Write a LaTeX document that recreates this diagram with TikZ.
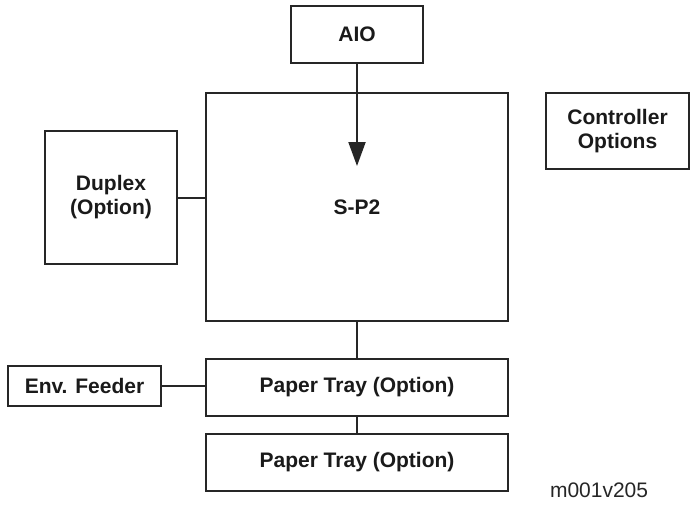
\documentclass[tikz,border=0pt]{standalone}
\usepackage{fontspec}
\setmainfont{Liberation Sans}
\usetikzlibrary{arrows.meta, positioning}
\definecolor{cline}{HTML}{262626}
\definecolor{ctext}{HTML}{1A1A1A}
\tikzset{
  every picture/.style={font=\fontsize{10.5}{12}\selectfont, line width=1pt},
  unit/.style={draw=cline, fill=white, align=center, inner sep=0pt, text=ctext, font=\fontsize{10.5}{12}\selectfont\bfseries},
  link/.style={draw=cline, line width=1pt},
  feed/.style={-{Triangle[length=12pt, width=8.5pt]}, draw=cline, line width=1pt},
  tag/.style={font=\fontsize{10.5}{12}\selectfont, text=cline, anchor=base west, inner sep=0pt},
}

\begin{document}
\begin{tikzpicture}[x=0.5pt, y=-0.5pt]
  \useasboundingbox (0,0) rectangle (690,504);

  % ---- main unit and options
  \node[unit, minimum width=66pt, minimum height=28.5pt] (aio) at (357,34.5) {AIO};
  \node[unit, minimum width=151pt, minimum height=114pt] (sp2) at (357,207) {S-P2};
  \node[unit, minimum width=71.5pt, minimum height=38pt] (ctl) at (617.5,131) {Controller\\Options};
  \node[unit, minimum width=66pt, minimum height=66.5pt] (dup) at (111,197.5) {Duplex\\(Option)};

  % ---- paper feed
  \node[unit, minimum width=151pt, minimum height=28.5pt] (tray1) at (357,387.5) {Paper Tray (Option)};
  \node[unit, minimum width=151pt, minimum height=28.5pt] (tray2) at (357,462.5) {Paper Tray (Option)};
  \node[unit, minimum width=76.5pt, minimum height=20pt] (env) at (84.5,386) {Env. Feeder};

  \node[tag] (code) at (549,497) {m001v205};

  \coordinate (tip) at (357,166);
  \draw[feed] (aio.south) -- (tip);
  \draw[link] (dup.east) -- (dup.east -| sp2.west);
  \draw[link] (sp2.south) -- (tray1.north);
  \draw[link] (tray1.south) -- (tray2.north);
  \draw[link] (env.east) -- (env.east -| tray1.west);
\end{tikzpicture}
\end{document}
